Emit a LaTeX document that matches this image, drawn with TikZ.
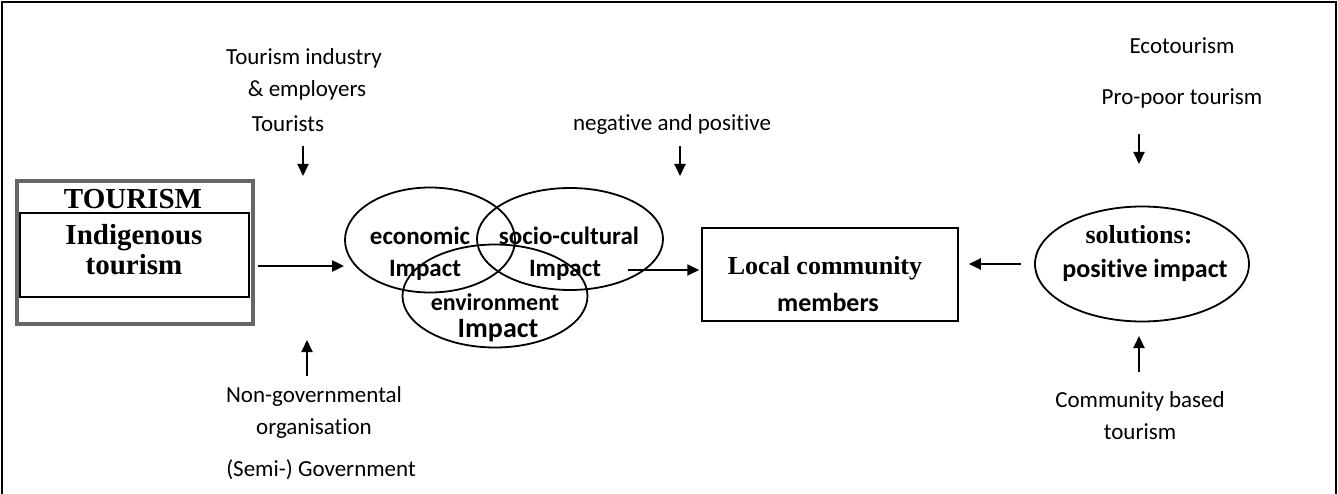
\documentclass[tikz,border=0pt]{standalone}
\usepackage{fontspec}
\setmainfont{Carlito}[Ligatures=NoCommon]
\newfontfamily\timesfont{Liberation Serif}
\usetikzlibrary{shapes.geometric,arrows.meta}
\tikzset{
  lbl/.style={font=\fontsize{23}{32}\selectfont, align=center, inner sep=0pt},
  imp/.style={font=\fontsize{25}{30}\selectfont\bfseries, inner sep=0pt},
  tnr/.style={font=\fontsize{#1}{30}\selectfont\timesfont\bfseries, inner sep=0pt},
  arr/.style={line width=2pt, -{Triangle[length=12pt,width=11pt]}},
  venn/.style={draw, ellipse, line width=1.8pt, inner sep=0pt},
}
\begin{document}
\begin{tikzpicture}[x=1pt,y=-1pt]
\useasboundingbox (0,0) rectangle (1338,494);
\draw[line width=2pt] (2,494) -- (2,2) -- (1336,2) -- (1336,494);
% left: tourism box
\node[draw=black!60, line width=4pt, minimum width=236, minimum height=142] (tourbox) at (134.5,252.5) {};
\node[draw, line width=1.2pt, minimum width=229, minimum height=84] (indigbox) at (134.5,255) {};
\node[tnr=29] (tourism) at (133,199) {TOURISM};
\node[tnr=29, align=center] (indig) at (134,250) {Indigenous\\tourism};
% stakeholders
\node[lbl] (industry) at (304,74) {Tourism industry\\\hspace*{6pt}\& employers};
\node[lbl] (tourists) at (288,124) {Tourists};
\node[lbl] (ngo) at (314,412) {Non-governmental\\organisation};
\node[lbl] (gov) at (321,470) {(Semi-) Government};
\coordinate (d1s) at (303,146);
\coordinate (d1e) at (303,176);
\draw[arr] (d1s) -- (d1e);
\coordinate (u1s) at (307,376);
\coordinate (u1e) at (307,340);
\draw[arr] (u1s) -- (u1e);
% impacts
\node[venn, minimum width=170, minimum height=105] (econ) at (430,240) {};
\node[venn, minimum width=186, minimum height=102] (socio) at (570,239) {};
\node[venn, minimum width=185, minimum height=103] (envir) at (495,296) {};
\node[imp] (econlbl) at (420,236) {economic};
\node[imp] (econimp) at (425,270) {Impact};
\node[imp] (sociolbl) at (569,236) {socio-cultural};
\node[imp] (socioimp) at (565,270) {Impact};
\node[imp, font=\fontsize{24}{30}\selectfont\bfseries] (envirlbl) at (495,302) {environment};
\node[imp, font=\fontsize{28}{30}\selectfont\bfseries] (envirimp) at (498,331) {Impact};
\node[lbl] (negpos) at (672,124) {negative and positive};
\coordinate (d2s) at (680,146);
\coordinate (d2e) at (680,176);
\draw[arr] (d2s) -- (d2e);
\coordinate (tb-out) at (258,266);
\draw[arr] (tb-out) -- (tb-out -| econ.west);
% local community
\node[draw, line width=1.5pt, minimum width=256, minimum height=93] (local) at (830,274.5) {};
\node[tnr=26] (locallbl) at (825,268) {Local community};
\node[imp, font=\fontsize{26}{30}\selectfont\bfseries] (members) at (828,302) {members};
\coordinate (sc-out) at (628,270);
\draw[arr] (sc-out) -- ([xshift=-2pt]sc-out -| local.west);
% solutions
\node[venn, minimum width=214, minimum height=115] (sol) at (1142,264) {};
\node[tnr=26] (sollbl) at (1139,235) {solutions:};
\node[imp, font=\fontsize{26}{30}\selectfont\bfseries] (solimp) at (1145,270) {positive impact};
\draw[arr, shorten <=13pt, shorten >=10pt] (sol.west) -- (sol.west -| local.east);
\node[lbl] (eco) at (1182,46) {Ecotourism};
\node[lbl] (propoor) at (1182,98) {Pro-poor tourism};
\node[lbl] (cbt) at (1140,416) {Community based\\tourism};
\coordinate (d3s) at (1139,134);
\coordinate (d3e) at (1139,164);
\draw[arr] (d3s) -- (d3e);
\coordinate (u3s) at (1139,372);
\coordinate (u3e) at (1139,336);
\draw[arr] (u3s) -- (u3e);
\end{tikzpicture}
\end{document}
